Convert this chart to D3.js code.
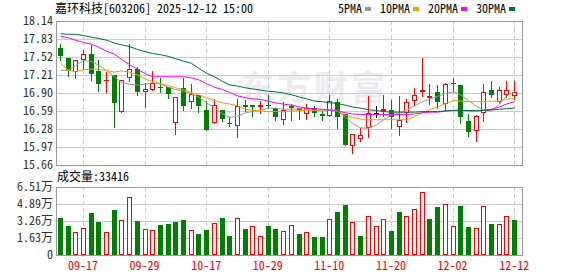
<!DOCTYPE html>
<head>
    <meta charset="utf-8">
    <script src="https://d3js.org/d3.v7.min.js"></script>
    <style type="text/css">
        body {
            margin: 0;
            background-color: white;
        }

        svg text {
            font-family: "Noto Sans Mono CJK SC", "Noto Sans CJK SC", monospace;
            font-size: 12px;
        }
    </style>
</head>

<body>
    <svg id="main"></svg>
    <script>
        // ---- data ----
        const dates = ["09-12", "09-15", "09-16", "09-17", "09-18", "09-19", "09-22", "09-23", "09-24", "09-25",
            "09-26", "09-29", "09-30", "10-09", "10-10", "10-13", "10-14", "10-15", "10-16", "10-17",
            "10-20", "10-21", "10-22", "10-23", "10-24", "10-27", "10-28", "10-29", "10-30", "10-31",
            "11-03", "11-04", "11-05", "11-06", "11-07", "11-10", "11-11", "11-12", "11-13", "11-14",
            "11-17", "11-18", "11-19", "11-20", "11-21", "11-24", "11-25", "11-26", "11-27", "11-28",
            "12-01", "12-02", "12-03", "12-04", "12-05", "12-08", "12-09", "12-10", "12-11", "12-12"]

        const opens = [17.67, 17.50, 17.27, 17.46, 17.57, 17.28, 17.11, 17.21, 16.58, 17.15,
            17.31, 16.92, 16.96, 17.01, 17.01, 16.38, 16.98, 16.75, 16.87, 16.61,
            16.38, 16.61, 16.39, 16.33, 16.69, 16.69, 16.66, 16.70, 16.64, 16.43,
            16.67, 16.64, 16.54, 16.64, 16.54, 16.51, 16.75, 16.53, 15.98, 16.10,
            16.29, 16.55, 16.59, 16.60, 16.31, 16.56, 16.76, 16.91, 16.81, 16.92,
            16.71, 17.08, 17.04, 16.42, 16.24, 16.55, 16.95, 16.75, 16.87, 16.85]
        const highs = [17.75, 17.50, 17.47, 17.64, 17.73, 17.46, 17.27, 17.21, 17.13, 17.75,
            17.35, 17.08, 17.28, 17.15, 17.01, 16.83, 17.15, 17.05, 16.87, 16.77,
            16.79, 16.61, 16.48, 16.79, 16.78, 16.69, 16.76, 16.87, 16.64, 16.75,
            16.71, 16.64, 16.71, 16.67, 16.59, 16.87, 16.79, 16.53, 16.20, 16.29,
            16.84, 16.67, 16.87, 16.78, 16.84, 16.80, 16.99, 17.50, 17.05, 17.04,
            17.07, 17.16, 17.04, 16.53, 16.52, 17.06, 17.11, 17.00, 17.11, 17.11]
        const lows = [17.46, 17.19, 17.15, 17.31, 17.13, 16.93, 16.91, 16.31, 16.58, 17.11,
            16.87, 16.66, 16.96, 16.91, 16.82, 16.19, 16.60, 16.65, 16.58, 16.26,
            16.38, 16.41, 16.34, 16.15, 16.59, 16.51, 16.56, 16.64, 16.43, 16.37,
            16.44, 16.46, 16.46, 16.50, 16.44, 16.51, 16.30, 16.00, 15.87, 16.07,
            16.15, 16.49, 16.51, 16.29, 16.17, 16.40, 16.69, 16.85, 16.71, 16.64,
            16.60, 16.93, 16.39, 16.16, 16.07, 16.41, 16.83, 16.73, 16.83, 16.79]
        const closes = [17.54, 17.28, 17.46, 17.57, 17.22, 17.05, 17.12, 16.72, 17.13, 17.31,
            16.92, 16.97, 17.07, 17.00, 16.88, 16.83, 16.68, 16.88, 16.68, 16.27,
            16.69, 16.46, 16.38, 16.68, 16.66, 16.66, 16.70, 16.69, 16.48, 16.60,
            16.64, 16.60, 16.64, 16.56, 16.51, 16.76, 16.49, 16.00, 16.19, 16.17,
            16.55, 16.55, 16.63, 16.49, 16.44, 16.75, 16.87, 16.95, 16.85, 16.75,
            17.06, 17.07, 16.48, 16.22, 16.50, 16.91, 16.87, 16.95, 16.95, 16.92]

        // volume in 万手
        const volumes = [3.53, 2.76, 2.19, 2.54, 4.03, 3.14, 2.19, 4.29, 3.34, 5.53,
            3.24, 2.48, 2.38, 2.86, 2.98, 3.18, 3.34, 2.38, 2.03, 2.41,
            3.05, 3.53, 1.81, 3.50, 2.48, 2.76, 1.78, 2.76, 2.48, 2.29,
            2.83, 2.00, 2.19, 1.72, 1.72, 3.40, 4.10, 4.77, 3.14, 1.81,
            3.78, 2.73, 3.40, 2.29, 4.10, 3.69, 4.45, 6.07, 3.43, 4.57,
            4.92, 2.73, 4.67, 2.67, 2.54, 4.73, 2.95, 2.92, 3.69, 3.3416]

        const ma5 = [17.29, 17.29, 17.37, 17.46, 17.44, 17.38, 17.29, 17.18, 17.08, 17.05,
            17.04, 17.05, 17.08, 17.05, 17.00, 16.96, 16.93, 16.89, 16.83, 16.73,
            16.64, 16.54, 16.48, 16.50, 16.56, 16.58, 16.60, 16.64, 16.64, 16.62,
            16.62, 16.63, 16.62, 16.60, 16.59, 16.60, 16.59, 16.48, 16.38, 16.30,
            16.29, 16.35, 16.44, 16.52, 16.56, 16.60, 16.68, 16.75, 16.79, 16.84,
            16.89, 16.92, 16.87, 16.77, 16.67, 16.61, 16.59, 16.71, 16.85, 16.92]
        const ma10 = [17.41, 17.29, 17.27, 17.30, 17.31, 17.31, 17.29, 17.26, 17.28, 17.26,
            17.21, 17.14, 17.10, 17.06, 17.03, 16.99, 16.96, 16.91, 16.87, 16.82,
            16.77, 16.73, 16.71, 16.68, 16.62, 16.60, 16.59, 16.58, 16.58, 16.58,
            16.59, 16.60, 16.60, 16.60, 16.61, 16.62, 16.59, 16.52, 16.48, 16.45,
            16.44, 16.44, 16.44, 16.44, 16.44, 16.44, 16.49, 16.56, 16.61, 16.66,
            16.72, 16.77, 16.76, 16.75, 16.75, 16.75, 16.76, 16.76, 16.79, 16.81]
        const ma20 = [17.88, 17.85, 17.81, 17.77, 17.74, 17.69, 17.62, 17.57, 17.48, 17.39,
            17.31, 17.23, 17.18, 17.18, 17.18, 17.18, 17.18, 17.16, 17.13, 17.06,
            17.00, 16.96, 16.91, 16.85, 16.82, 16.80, 16.79, 16.76, 16.73, 16.71,
            16.69, 16.66, 16.64, 16.63, 16.62, 16.61, 16.59, 16.56, 16.54, 16.53,
            16.53, 16.53, 16.53, 16.53, 16.53, 16.53, 16.54, 16.56, 16.57, 16.57,
            16.59, 16.60, 16.60, 16.59, 16.59, 16.60, 16.62, 16.66, 16.71, 16.75]
        const ma30 = [17.92, 17.91, 17.91, 17.89, 17.86, 17.84, 17.81, 17.76, 17.73, 17.70,
            17.65, 17.61, 17.58, 17.56, 17.53, 17.49, 17.45, 17.41, 17.33, 17.24,
            17.18, 17.10, 17.04, 17.02, 16.99, 16.97, 16.95, 16.93, 16.92, 16.90,
            16.87, 16.83, 16.80, 16.76, 16.75, 16.73, 16.72, 16.69, 16.66, 16.64,
            16.61, 16.60, 16.58, 16.57, 16.57, 16.57, 16.57, 16.58, 16.58, 16.58,
            16.59, 16.60, 16.60, 16.60, 16.60, 16.60, 16.61, 16.62, 16.63, 16.64]

        const priceTicks = [15.66, 15.97, 16.28, 16.59, 16.90, 17.21, 17.52, 17.83, 18.14]
        const volTicks = [0, 1.63, 3.26, 4.89, 6.51]
        const dateTicks = ["09-17", "09-29", "10-17", "10-29", "11-10", "11-20", "12-02", "12-12"]

        const maNames = ["5PMA", "10PMA", "20PMA", "30PMA"]
        const maSeries = [ma5, ma10, ma20, ma30]

        // ---- setup ----
        let width = 578,
            height = 276

        const red = "#ff0000",
            green = "#008000",
            maColors = ["#999999", "#f0a000", "#ff00ff", "#00703c"]

        let svg1 = d3.select("#main")
            .attr("width", width)
            .attr("height", height)

        let plotLeft = 56, plotRight = 522

        let x = d3.scaleBand().domain(dates).range([plotLeft, 518])
        let y = d3.scaleLinear().domain([15.66, 18.14]).range([165, 21])
        let yVol = d3.scaleLinear().domain([0, 6.51]).range([255, 187])

        // pixel column of a bar's centre
        function cx(i) {
            return Math.round(x(dates[i]) + x.bandwidth() / 2)
        }

        // watermark
        svg1.append("text")
            .attr("x", 240).attr("y", 100)
            .style("font-size", "34px")
            .style("font-family", "'Noto Sans CJK SC'")
            .style("font-weight", "bold")
            .attr("fill", "#ebebf0")
            .attr("letter-spacing", 3)
            .text("东方财富")

        // ---- grids and frames ----
        function drawGrid(scale, ticks, top, bottom) {
            let g = svg1.append("g")
            g.selectAll("line.h")
                .data(ticks.slice(1, -1))
                .enter().append("line")
                .attr("x1", plotLeft).attr("x2", plotRight)
                .attr("y1", d => Math.round(scale(d)) + 0.5)
                .attr("y2", d => Math.round(scale(d)) + 0.5)
                .attr("stroke", "#cccccc")
            g.selectAll("line.v")
                .data(dateTicks)
                .enter().append("line")
                .attr("x1", d => cx(dates.indexOf(d)) + 0.5)
                .attr("x2", d => cx(dates.indexOf(d)) + 0.5)
                .attr("y1", top).attr("y2", bottom)
                .attr("stroke", "#cccccc")
                .attr("stroke-dasharray", "4,3")
            g.append("rect")
                .attr("x", plotLeft + 0.5).attr("y", top + 0.5)
                .attr("width", plotRight - plotLeft).attr("height", bottom - top)
                .attr("fill", "none")
                .attr("stroke", "#999999")
        }
        drawGrid(y, priceTicks, 21, 165)
        drawGrid(yVol, volTicks, 187, 255)

        // ---- axes ----
        let yAxis = svg1.append("g")
            .attr("transform", "translate(" + plotLeft + ",0)")
            .call(d3.axisLeft(y).tickValues(priceTicks).tickSize(0).tickPadding(3).tickFormat(d3.format(".2f")))
        let volAxis = svg1.append("g")
            .attr("transform", "translate(" + plotLeft + ",0)")
            .call(d3.axisLeft(yVol).tickValues(volTicks).tickSize(0).tickPadding(3)
                .tickFormat(d => d === 0 ? "0" : d3.format(".2f")(d) + "万"))
        let xAxis = svg1.append("g")
            .attr("transform", "translate(0,255)")
            .call(d3.axisBottom(x).tickValues(dateTicks).tickSize(0).tickPadding(6))

        ;[yAxis, volAxis, xAxis].forEach(g => {
            g.select(".domain").remove()
            g.attr("font-family", null).attr("font-size", null)
        })
        yAxis.selectAll("text").attr("fill", "#333333")
        volAxis.selectAll("text").attr("fill", "#333333")
        xAxis.selectAll("text").attr("fill", red)

        // ---- colours ----
        function candleColor(i) {
            if (closes[i] > opens[i]) return red
            if (closes[i] < opens[i]) return green
            let prev = i > 0 ? closes[i - 1] : opens[i]
            return closes[i] > prev ? red : closes[i] < prev ? green : "#000000"
        }

        function volUp(i) {
            return i === 0 ? closes[0] >= opens[0] : closes[i] >= closes[i - 1]
        }

        let idx = d3.range(dates.length)

        // ---- candles ----
        let candles = svg1.append("g").selectAll("g")
            .data(idx).enter().append("g")

        candles.append("line")
            .attr("x1", i => cx(i) + 0.5).attr("x2", i => cx(i) + 0.5)
            .attr("y1", i => Math.round(y(highs[i])))
            .attr("y2", i => Math.round(y(lows[i])) + 1)
            .attr("stroke", candleColor)

        candles.append("rect")
            .each(function (i) {
                let top = Math.round(y(Math.max(opens[i], closes[i])))
                let bot = Math.round(y(Math.min(opens[i], closes[i])))
                let el = d3.select(this)
                if (closes[i] > opens[i] && bot - top > 1) {
                    // hollow rising candle
                    el.attr("x", cx(i) - 1.5).attr("y", top + 0.5)
                        .attr("width", 4).attr("height", bot - top - 1)
                        .attr("fill", "white").attr("stroke", red)
                } else {
                    el.attr("x", cx(i) - 2).attr("y", top)
                        .attr("width", 5).attr("height", Math.max(bot - top, 1))
                        .attr("fill", candleColor(i))
                }
            })

        // ---- moving averages ----
        let maLine = d3.line()
            .x((d, i) => cx(i) + 0.5)
            .y(d => y(d))

        svg1.append("g").selectAll("path")
            .data(maSeries).enter().append("path")
            .attr("d", maLine)
            .attr("fill", "none")
            .attr("stroke", (d, k) => maColors[k])
            .attr("stroke-width", 1)

        // ---- volume bars ----
        svg1.append("g").selectAll("rect")
            .data(idx).enter().append("rect")
            .each(function (i) {
                let top = Math.round(yVol(volumes[i]))
                let el = d3.select(this)
                if (volUp(i)) {
                    el.attr("x", cx(i) - 1.5).attr("y", top + 0.5)
                        .attr("width", 4).attr("height", 255 - top - 1)
                        .attr("fill", "white").attr("stroke", red)
                } else {
                    el.attr("x", cx(i) - 2).attr("y", top)
                        .attr("width", 5).attr("height", 255 - top)
                        .attr("fill", green)
                }
            })

        // ---- texts ----
        svg1.append("text")
            .attr("x", 55).attr("y", 13)
            .attr("fill", "#000")
            .text("嘉环科技[603206] 2025-12-12 15:00")

        svg1.append("text")
            .attr("x", 57).attr("y", 181)
            .attr("fill", "#000")
            .text("成交量:" + Math.round(volumes[volumes.length - 1] * 10000))

        // legend
        let lx = 338
        maNames.forEach((name, k) => {
            let t = svg1.append("text")
                .attr("x", lx).attr("y", 13)
                .attr("fill", "#000")
                .text(name)
            lx += t.node().getComputedTextLength() + 3
            svg1.append("rect")
                .attr("x", lx).attr("y", 7)
                .attr("width", 6).attr("height", 4)
                .attr("fill", maColors[k])
            lx += 6 + 9
        })
    </script>
</body>
